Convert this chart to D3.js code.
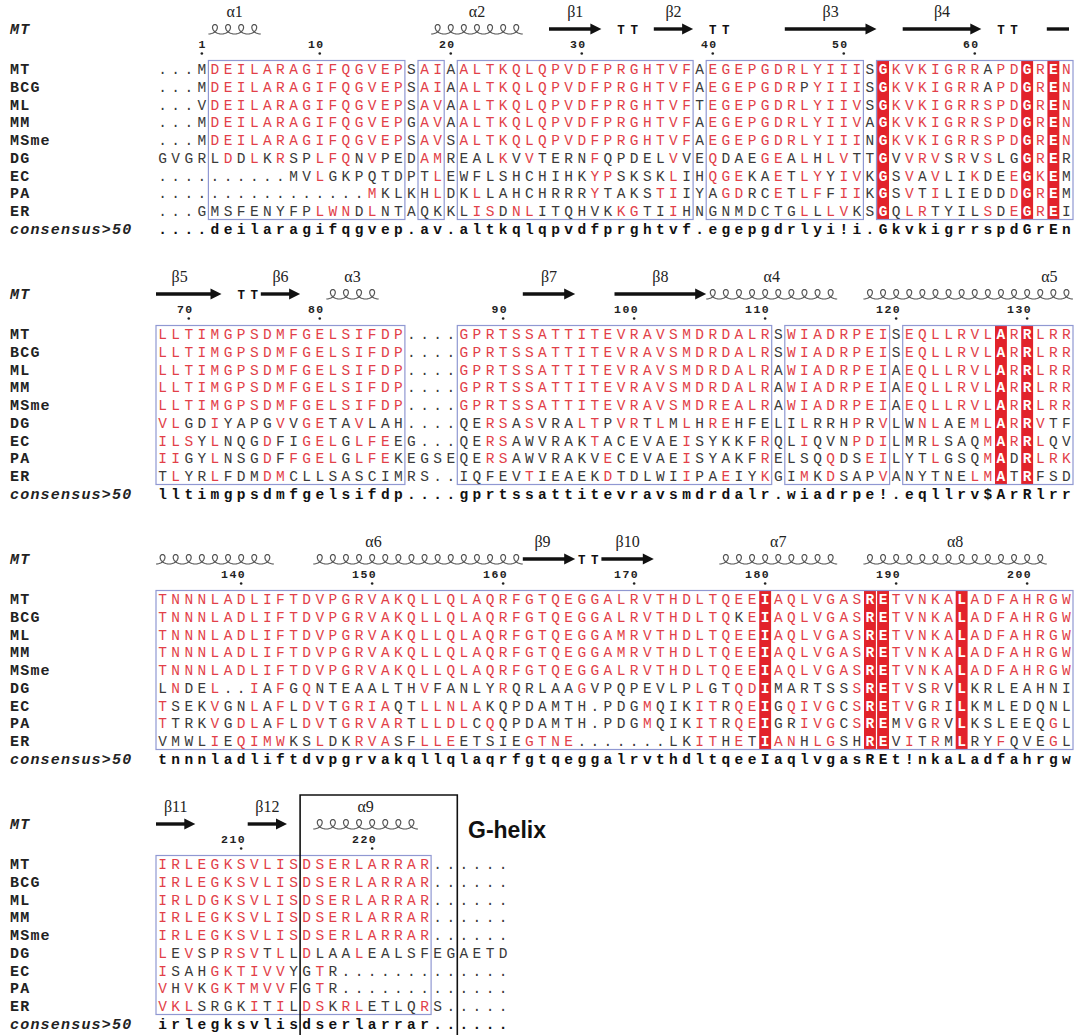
<!DOCTYPE html>
<html><head><meta charset="utf-8">
<script src="https://cdn.jsdelivr.net/npm/d3@7"></script>
<style>body{margin:0;background:#fff}</style>
</head><body>
<svg id="c" width="1081" height="1035"></svg>
<script>
// ---------------- DATA ----------------
const names = ["MT","BCG","ML","MM","MSme","DG","EC","PA","ER"];

const seqBlock1 = [
  "...MDEILARAGIFQGVEPSAIAALTKQLQPVDFPRGHTVFAEGEPGDRLYIIISGKVKIGRRAPDGREN",
  "...MDEILARAGIFQGVEPSAIAALTKQLQPVDFPRGHTVFAEGEPGDRPYIIISGKVKIGRRAPDGREN",
  "...VDEILARAGIFQGVEPSAVAALTKQLQPVDFPRGHTVFTEGEPGDRLYIIVSGKVKIGRRSPDGREN",
  "...MDEILARAGIFQGVEPGAVAALTKQLQPVDFPRGHTVFAEGEPGDRLYIIVAGKVKIGRRSPDGREN",
  "...MDEILARAGIFQGVEPSAVSALTKQLQPVDFPRGHTVFAEGEPGDRLYIIINGKVKIGRRSPDGREN",
  "GVGRLDDLKRSPLFQNVPEDAMREALKVVTERNFQPDELVVEQDAEGEALHLVTTGVVRVSRVSLGGRER",
  "..........MVLGKPQTDPTLEWFLSHCHIHKYPSKSKLIHQGEKAETLYYIVKGSVAVLIKDEEGKEM",
  "................MKLKHLDKLLAHCHRRRYTAKSTIIYAGDRCETLFFIIKGSVTILIEDDDGREM",
  "...GMSFENYFPLWNDLNTAQKKLISDNLITQHVKKGTIIHNGNMDCTGLLLVKSGQLRTYILSDEGREI"
];
const seqBlock2 = [
  "LLTIMGPSDMFGELSIFDP....GPRTSSATTITEVRAVSMDRDALRSWIADRPEISEQLLRVLARRLRR",
  "LLTIMGPSDMFGELSIFDP....GPRTSSATTITEVRAVSMDRDALRSWIADRPEISEQLLRVLARRLRR",
  "LLTIMGPSDMFGELSIFDP....GPRTSSATTITEVRAVSMDRDALRAWIADRPEIAEQLLRVLARRLRR",
  "LLTIMGPSDMFGELSIFDP....GPRTSSATTITEVRAVSMDRDALRAWIADRPEIAEQLLRVLARRLRR",
  "LLTIMGPSDMFGELSIFDP....GPRTSSATTITEVRAVSMDREALRAWIADRPEIAEQLLRVLARRLRR",
  "VLGDIYAPGVVGETAVLAH....QERSASVRALTPVRTLMLHREHFELILRRHPRVLWNLAEMLARRVTF",
  "ILSYLNQGDFIGELGLFEEG...QERSAWVRAKTACEVAEISYKKFRQLIQVNPDILMRLSAQMARRLQV",
  "IIGYLNSGDFFGELGLFEKEGSEQERSAWVRAKVECEVAEISYAKFRELSQQDSEILYTLGSQMADRLRK",
  "TLYRLFDMDMCLLSASCIMRS..IQFEVTIEAEKDTDLWIIPAEIYKGIMKDSAPVANYTNELMATRFSD"
];
const seqBlock3 = [
  "TNNNLADLIFTDVPGRVAKQLLQLAQRFGTQEGGALRVTHDLTQEEIAQLVGASRETVNKALADFAHRGW",
  "TNNNLADLIFTDVPGRVAKQLLQLAQRFGTQEGGALRVTHDLTQKEIAQLVGASRETVNKALADFAHRGW",
  "TNNNLADLIFTDVPGRVAKQLLQLAQRFGTQEGGAMRVTHDLTQEEIAQLVGASRETVNKALADFAHRGW",
  "TNNNLADLIFTDVPGRVAKQLLQLAQRFGTQEGGAMRVTHDLTQEEIAQLVGASRETVNKALADFAHRGW",
  "TNNNLADLIFTDVPGRVAKQLLQLAQRFGTQEGGALRVTHDLTQEEIAQLVGASRETVNKALADFAHRGW",
  "LNDEL..IAFGQNTEAALTHVFANLYRQRLAAGVPQPEVLPLGTQDIMARTSSSRETVSRVLKRLEAHNI",
  "TSEKVGNLAFLDVTGRIAQTLLNLAKQPDAMTH.PDGMQIKITRQEIGQIVGCSRETVGRILKMLEDQNL",
  "TTRKVGDLAFLDVTGRVARTLLDLCQQPDAMTH.PDGMQIKITRQEIGRIVGCSREMVGRVLKSLEEQGL",
  "VMWLIEQIMWKSLDKRVASFLLEETSIEGTNE.......LKITHETIANHLGSHREVITRMLRYFQVEGL"
];
const seqBlock4 = [
  "IRLEGKSVLISDSERLARRAR......",
  "IRLEGKSVLISDSERLARRAR......",
  "IRLDGKSVLISDSERLARRAR......",
  "IRLEGKSVLISDSERLARRAR......",
  "IRLEGKSVLISDSERLARRAR......",
  "LEVSPRSVTLLDLAALEALSFEGAETD",
  "ISAHGKTIVVYGTR.............",
  "VHVKGKTMVVFGTR.............",
  "VKLSRGKITILDSKRLETLQRS....."
];
const consensus = [
  "....deilaragifqgvep.av.altkqlqpvdfprghtvf.egepgdrlyi!i.GkvkigrrspdGrEn",
  "lltimgpsdmfgelsifdp....gprtssattitevravsmdrdalr.wiadrpe!.eqllrv$ArRlrr",
  "tnnnladliftdvpgrvakqllqlaqrfgtqeggalrvthdltqeeIaqlvgasREt!nkaLadfahrgw",
  "irlegksvlisdserlarrar......"
];
// framed (similarity) column ranges per block
const boxesBlock = [
  [[5,19],[21,22],[24,41],[43,54],[56,70]],
  [[1,19],[24,47],[49,56],[58,70]],
  [[1,70]],
  [[1,21]]
];
// secondary structure of MT (column ranges)
const ssBlock1 = [
  {type:"helix",from:5,to:8,label:"α1"},
  {type:"helix",from:22,to:28,label:"α2"},
  {type:"strand",from:31,to:34,label:"β1"},
  {type:"turn",from:36,to:37},
  {type:"strand",from:39,to:41,label:"β2"},
  {type:"turn",from:43,to:44},
  {type:"strand",from:49,to:55,label:"β3"},
  {type:"strand",from:58,to:63,label:"β4"},
  {type:"turn",from:65,to:66},
  {type:"strandCont",from:69,to:70}
];
const ssBlock2 = [
  {type:"strand",from:1,to:5,label:"β5",at:2.8},
  {type:"turn",from:7,to:8},
  {type:"strand",from:9,to:11,label:"β6"},
  {type:"helix",from:14,to:17,label:"α3"},
  {type:"strand",from:29,to:32,label:"β7"},
  {type:"strand",from:36,to:42,label:"β8"},
  {type:"helix",from:43,to:52,label:"α4"},
  {type:"helix",from:55,to:70,label:"α5",at:69.2}
];
const ssBlock3 = [
  {type:"helix",from:1,to:9},
  {type:"helix",from:13,to:28,label:"α6",at:17.6},
  {type:"strand",from:29,to:32,label:"β9",at:30.5},
  {type:"turn",from:33,to:34},
  {type:"strand",from:35,to:38,label:"β10"},
  {type:"helix",from:44,to:52,label:"α7"},
  {type:"helix",from:55,to:68,label:"α8"}
];
const ssBlock4 = [
  {type:"strand",from:1,to:3,label:"β11"},
  {type:"strand",from:8,to:10,label:"β12"},
  {type:"helix",from:13,to:20,label:"α9"}
];
const tickLabels = [
  [1,10,20,30,40,50,60],
  [70,80,90,100,110,120,130],
  [140,150,160,170,180,190,200],
  [210,220]
];
const seqBlocks = [seqBlock1, seqBlock2, seqBlock3, seqBlock4];
const ssBlocks = [ssBlock1, ssBlock2, ssBlock3, ssBlock4];

// ---------------- LAYOUT ----------------
const W = 1081, H = 1035;
const cw = 13.1, x0 = 156;
const x = d3.scaleLinear().domain([1, 71]).range([x0, x0 + 70 * cw]);
const blockY = d3.scaleLinear().domain([0, 3]).range([69, 69 + 3 * 265]);
const rowY = d3.scaleLinear().domain([0, 1]).range([0, 17.75]);

const RED_BG = "#e2232b", RED_TXT = "#e23f49", DARK = "#3a3a3a", FRAME = "#9098d2";
const MONO = "'Liberation Mono', 'DejaVu Sans Mono', monospace";
const SERIF = "'Liberation Serif', 'DejaVu Serif', serif";

const groups = ["ILVM","FYW","KR","DEQ","NQ","ST"];
function similar(a, c) {
  if (a === "." || c === ".") return false;
  if (c === "!") return "IV".includes(a);
  if (c === "$") return "LM".includes(a);
  const C = c.toUpperCase();
  if (a === C) return true;
  return groups.some(g => g.includes(a) && g.includes(C));
}

const svg = d3.select("#c");
svg.append("rect").attr("width", W).attr("height", H).attr("fill", "#fff");

// residue numbering from the MT row
let resCount = 0;
const colOfResidue = [];
seqBlocks.forEach((blk, b) => {
  blk[0].split("").forEach((ch, i) => {
    if (ch !== ".") { resCount++; colOfResidue[resCount] = {b, col: i + 1}; }
  });
});

function helixPath(from, to, base, hh) {
  const pts = [];
  for (let c = from; c <= to; c++) {
    const cx = x(c + 0.5), w = x(c + 1) - x(c);
    for (let k = 0; k <= 28; k++) {
      const t = -Math.PI + 2 * Math.PI * k / 28;
      pts.push([cx + w * t / (2 * Math.PI) - 5.3 * Math.sin(t), base - hh * (1 + Math.cos(t)) / 2]);
    }
  }
  return d3.line()(pts);
}

seqBlocks.forEach((seqs, b) => {
  const r0 = blockY(b);
  const g = svg.append("g");
  const cons = consensus[b];
  const bx = boxesBlock[b];
  const top = r0 - 8.5, bottom = r0 + rowY(8) + 8.5;

  // identical columns (uppercase consensus)
  const identCols = cons.split("").map((c, i) => ({c, col: i + 1})).filter(d => /[A-Z]/.test(d.c));
  g.selectAll("rect.id").data(identCols).join("rect")
    .attr("x", d => x(d.col) + 0.6).attr("y", top)
    .attr("width", d => x(d.col + 1) - x(d.col) - 1.2).attr("height", bottom - top)
    .attr("fill", RED_BG);

  // frames
  g.selectAll("rect.box").data(bx).join("rect")
    .attr("x", d => x(d[0])).attr("y", top)
    .attr("width", d => x(d[1] + 1) - x(d[0])).attr("height", bottom - top)
    .attr("fill", "none").attr("stroke", FRAME).attr("stroke-width", 1.2);

  // residues
  const cells = [];
  seqs.forEach((s, ri) => s.split("").forEach((ch, ci) => {
    const col = ci + 1, cc = cons[ci];
    const inBox = bx.some(([a, e]) => col >= a && col <= e);
    let fill = DARK, weight = "normal";
    if (/[A-Z]/.test(cc) && ch !== ".") { fill = "#fff"; weight = "bold"; }
    else if (inBox && similar(ch, cc)) fill = RED_TXT;
    cells.push({row: ri, col, ch, fill, weight});
  }));
  cons.split("").forEach((ch, ci) => cells.push({row: 9, col: ci + 1, ch, fill: "#111", weight: "bold"}));

  g.selectAll("text.res").data(cells).join("text")
    .attr("x", d => x(d.col + 0.5)).attr("y", d => r0 + rowY(d.row) + 5)
    .attr("text-anchor", "middle")
    .attr("font-family", MONO).attr("font-size", 14.5)
    .attr("font-weight", d => d.weight).attr("fill", d => d.fill)
    .text(d => d.ch);

  // row names
  const labels = names.map((n, i) => ({n, row: i, italic: false})).concat([{n: "consensus>50", row: 9, italic: true}]);
  g.selectAll("text.nm").data(labels).join("text")
    .attr("x", 10).attr("y", d => r0 + rowY(d.row) + 5)
    .attr("font-family", MONO).attr("font-size", 15).attr("font-weight", "bold")
    .attr("letter-spacing", 1.2)
    .attr("font-style", d => d.italic ? "italic" : "normal")
    .attr("fill", "#222").text(d => d.n);

  g.append("text").attr("x", 10).attr("y", r0 - 35)
    .attr("font-family", MONO).attr("font-size", 15).attr("font-weight", "bold")
    .attr("font-style", "italic").attr("letter-spacing", 1.2).attr("fill", "#222").text("MT");

  // numbering
  tickLabels[b].forEach(t => {
    const pos = colOfResidue[t];
    const cxp = x(pos.col + 0.5);
    const digits = String(t).split("");
    digits.forEach((dg, i) => {
      g.append("text").attr("x", cxp - (digits.length - 1 - i) * 8.3).attr("y", r0 - 21)
        .attr("text-anchor", "middle").attr("font-family", MONO).attr("font-size", 11.5)
        .attr("font-weight", "bold").attr("fill", "#222").text(dg);
    });
    g.append("circle").attr("cx", cxp).attr("cy", r0 - 15.5).attr("r", 1.3).attr("fill", "#222");
  });

  // secondary structure
  const ssY = r0 - 40;
  ssBlocks[b].forEach(e => {
    if (e.type === "helix") {
      g.append("path").attr("d", helixPath(e.from, e.to, ssY + 5, 9.5))
        .attr("fill", "none").attr("stroke", "#555").attr("stroke-width", 1.2);
    } else if (e.type === "strand" || e.type === "strandCont") {
      const xa = x(e.from), xb = x(e.to + 1);
      if (e.type === "strand") {
        const hl = 11;
        g.append("line").attr("x1", xa).attr("x2", xb - hl + 1).attr("y1", ssY).attr("y2", ssY)
          .attr("stroke", "#111").attr("stroke-width", 3.4);
        g.append("path").attr("d", `M${xb - hl},${ssY - 5.5}L${xb},${ssY}L${xb - hl},${ssY + 5.5}Z`).attr("fill", "#111");
      } else {
        g.append("line").attr("x1", xa).attr("x2", xb - 4).attr("y1", ssY).attr("y2", ssY)
          .attr("stroke", "#111").attr("stroke-width", 3.4);
      }
    } else if (e.type === "turn") {
      for (let c = e.from; c <= e.to; c++) {
        g.append("text").attr("x", x(c + 0.5)).attr("y", ssY + 4.5).attr("text-anchor", "middle")
          .attr("font-family", MONO).attr("font-size", 12.5).attr("font-weight", "bold")
          .attr("fill", "#111").text("T");
      }
    }
    if (e.label) {
      const at = e.at !== undefined ? e.at : (e.from + e.to + 1) / 2;
      g.append("text").attr("x", x(at)).attr("y", r0 - 52).attr("text-anchor", "middle")
        .attr("font-family", SERIF).attr("font-size", 16).attr("fill", "#222").text(e.label);
    }
  });
});

// G-helix frame
const r3 = blockY(3);
svg.append("path")
  .attr("d", `M${x(12)},${H + 5}V${r3 - 69}H${x(24)}V${H + 5}`)
  .attr("fill", "none").attr("stroke", "#111").attr("stroke-width", 1.6);
svg.append("text").attr("x", 468).attr("y", r3 - 26)
  .attr("font-family", "'Liberation Sans', Arial, sans-serif").attr("font-size", 23)
  .attr("font-weight", "bold").attr("fill", "#111").text("G-helix");
</script>
</body></html>
